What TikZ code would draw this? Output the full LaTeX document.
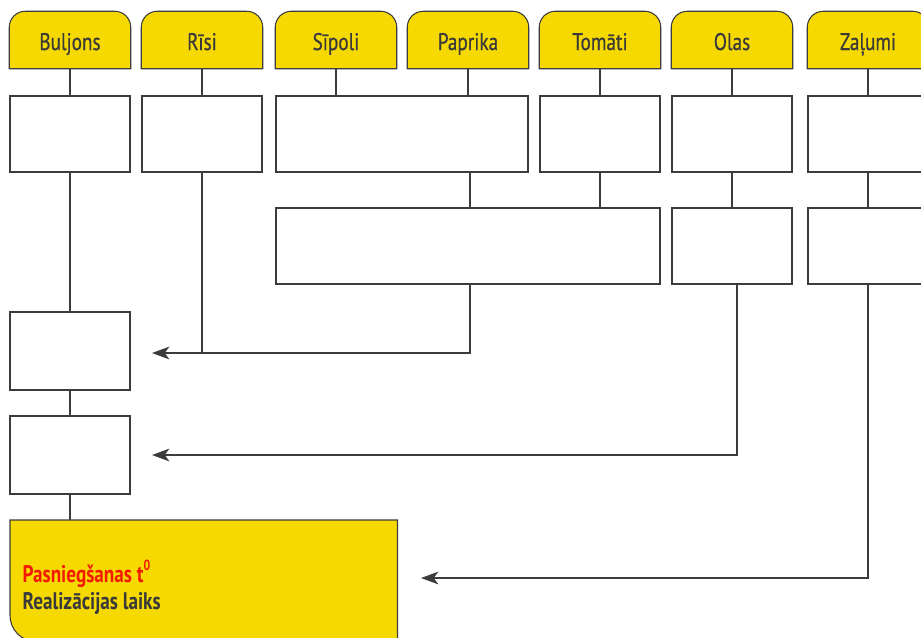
\documentclass[tikz,border=0pt]{standalone}
\usepackage{fontspec}
\setmainfont{PT Sans}[FakeStretch=0.8]
\newfontfamily\tabfont{PT Sans}[FakeStretch=0.8, FakeBold=0.6]
\usetikzlibrary{arrows.meta,calc}
\definecolor{ylw}{HTML}{F6D900}
\definecolor{edge}{HTML}{3C3C3C}
\definecolor{txt}{HTML}{3A3A3A}
\definecolor{redt}{HTML}{F21A00}
\begin{document}
\begin{tikzpicture}[x=0.75pt,y=0.75pt,
  line width=1.1pt,
  box/.style={draw=edge, fill=white, inner sep=0pt, minimum height=57pt},
  tabn/.style={inner sep=0pt, minimum width=90pt, minimum height=42pt},
  tabtxt/.style={inner sep=0pt, anchor=base, text=txt, font=\tabfont\fontsize{18}{20}\selectfont},
  tabshape/.style={draw=edge, line width=0.8pt, fill=ylw},
  link/.style={draw=edge},
  arr/.style={draw=edge, -{Stealth[length=13pt,width=9.5pt,inset=3.5pt]}}
]
\clip (0,0) rectangle (921,-637);
\fill[white] (0,0) rectangle (921,-637);

% tabs
\foreach \n/\x/\t in {t1/70/Buljons, t2/202/Rīsi, t3/336/Sīpoli, t4/468/Paprika, t5/600/Tomāti, t6/732/Olas, t7/868/Zaļumi}{
  \node[tabn] (\n) at (\x,-40) {};
  \draw[tabshape] (\n.south west) -- ($(\n.north west)+(0,-16)$) arc[start angle=180,end angle=90,radius=12pt]
     -- ($(\n.north east)+(-16,0)$) arc[start angle=90,end angle=0,radius=12pt] -- (\n.south east) -- cycle;
  \node[tabtxt] (\n l) at (\x,-50) {\t};
}

% row 1
\node[box, minimum width=90pt] (b1) at (70,-134) {};
\node[box, minimum width=90pt] (b2) at (202,-134) {};
\node[box, minimum width=189pt] (b34) at (402,-134) {};
\node[box, minimum width=90pt] (b5) at (600,-134) {};
\node[box, minimum width=90pt] (b6) at (732,-134) {};
\node[box, minimum width=90pt] (b7) at (868,-134) {};

% row 2
\node[box, minimum width=288pt] (c35) at (468,-246) {};
\node[box, minimum width=90pt] (c6) at (732,-246) {};
\node[box, minimum width=90pt] (c7) at (868,-246) {};

% left column
\node[box, minimum width=90pt, minimum height=58.5pt] (dA) at (70,-351) {};
\node[box, minimum width=90pt, minimum height=58.5pt] (dB) at (70,-455) {};

% serving box
\node[inner sep=0pt, minimum width=289.5pt, minimum height=90pt, anchor=north west] (sv) at (10,-520) {};
\draw[draw=edge, line width=0.8pt, fill=ylw] (sv.north west) -- ($(sv.south west)+(0,26)$) arc[start angle=180,end angle=270,radius=19.5pt]
   -- (sv.south east) -- (sv.north east) -- cycle;
\node[anchor=base west, inner sep=0pt, text=redt, font=\bfseries\fontsize{18}{20}\selectfont] (s1) at (22,-582) {Pasniegšanas t\raisebox{0.5em}{\fontsize{11}{11}\selectfont 0}};
\node[anchor=base west, inner sep=0pt, text=txt, font=\bfseries\fontsize{18}{20}\selectfont] (s2) at (22,-609) {Realizācijas laiks};

% tab links
\foreach \a/\b/\x in {t1/b1/70, t2/b2/202, t3/b34/336, t4/b34/468, t5/b5/600, t6/b6/732, t7/b7/868}{
  \draw[link] (\a.south -| \x,0) -- (\b.north -| \x,0);
}
% row1 -> row2
\draw[link] (b34.south -| 470,0) -- (c35.north -| 470,0);
\draw[link] (b5.south) -- (c35.north -| b5.south);
\draw[link] (b6.south) -- (c6.north);
\draw[link] (b7.south) -- (c7.north);
% left chain
\draw[link] (b1.south) -- (dA.north);
\draw[link] (dA.south) -- (dB.north);
\draw[link] (dB.south) -- (sv.north -| dB.south);

% arrows
\coordinate (ha) at (152,-353);
\coordinate (hb) at (152,-455);
\coordinate (hc) at (421,-578);
\draw[link] (b2.south) -- (b2.south |- ha);
\draw[arr] (c35.south -| 470,0) |- (ha);
\draw[arr] (c6.south -| 737,0) |- (hb);
\draw[arr] (c7.south) |- (hc);
\end{tikzpicture}
\end{document}
